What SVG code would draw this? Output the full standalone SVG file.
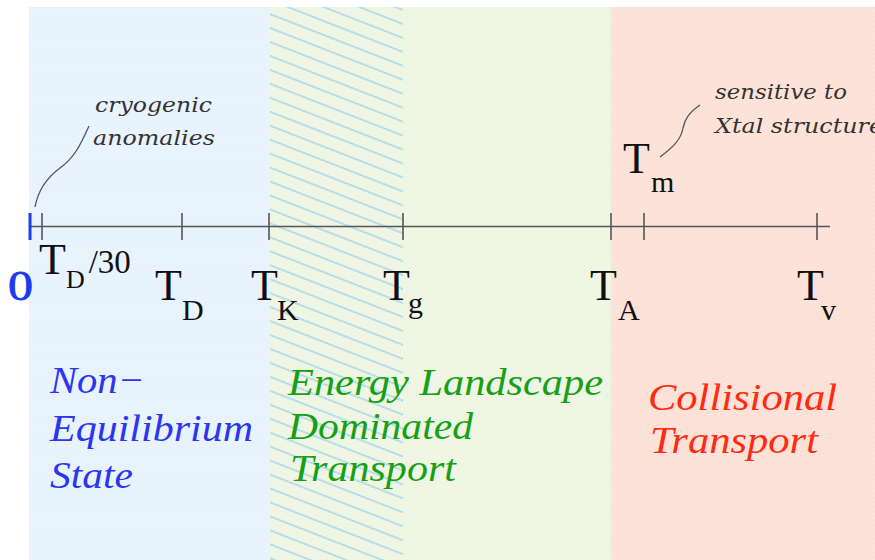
<svg xmlns="http://www.w3.org/2000/svg" width="875" height="560" viewBox="0 0 875 560">
<defs>
<pattern id="hatch" patternUnits="userSpaceOnUse" width="13" height="13" patternTransform="rotate(21.3)">
<line x1="0" y1="6" x2="13" y2="6" stroke="#9fd3ea" stroke-width="1.5"/>
</pattern>
<pattern id="tex" patternUnits="userSpaceOnUse" width="4" height="4" patternTransform="rotate(-30)">
<line x1="0" y1="2" x2="4" y2="2" stroke="#ffffff" stroke-width="0.8" stroke-opacity="0.35"/>
</pattern>
</defs>
<style>
text{font-family:'Liberation Serif','Times New Roman','DejaVu Serif',serif}
.big{font-size:44px;fill:#111}
.sub{font-size:30px;fill:#111}
.lab{font-style:italic;font-size:38px}
.note{font-family:'DejaVu Serif','Liberation Serif',serif;font-style:italic;font-size:21px;fill:#333}
.tick{stroke:#555;stroke-width:1.6}
.lead{fill:none;stroke:#555;stroke-width:1.3}
</style>
<rect width="875" height="560" fill="#ffffff"/>
<g id="regions">
<rect x="29" y="7" width="241" height="553" fill="#e6f2fd"/>
<rect x="270" y="7" width="341" height="553" fill="#eef5e1"/>
<rect x="270" y="7" width="133" height="553" fill="url(#hatch)"/>
<rect x="611" y="7" width="264" height="553" fill="#fde0d5"/>
<rect x="29" y="7" width="846" height="553" fill="url(#tex)"/>
</g>
<g id="axis">
<line class="tick" x1="30" y1="226.5" x2="830" y2="226.5"/>
<line x1="30" y1="213" x2="30" y2="240" stroke="#1a3cf0" stroke-width="3"/>
<line class="tick" x1="42" y1="213" x2="42" y2="240"/>
<line class="tick" x1="182" y1="213" x2="182" y2="240"/>
<line class="tick" x1="269" y1="213" x2="269" y2="240"/>
<line class="tick" x1="403" y1="213" x2="403" y2="240"/>
<line class="tick" x1="611" y1="213" x2="611" y2="240"/>
<line class="tick" x1="644" y1="213" x2="644" y2="240"/>
<line class="tick" x1="817" y1="213" x2="817" y2="240"/>
</g>
<g id="ticklabels">
<text x="8" y="300" font-size="42" fill="#1a3cf0" stroke="#1a3cf0" stroke-width="0.8" textLength="25" lengthAdjust="spacingAndGlyphs">0</text>
<text x="39" y="274" class="big" font-size="36">T<tspan font-size="26" dy="14">D</tspan><tspan font-size="33" dx="4" dy="-15">/30</tspan></text>
<text x="155" y="300" class="big">T</text><text x="182" y="320" class="sub">D</text>
<text x="251" y="300" class="big">T</text><text x="277" y="320" class="sub">K</text>
<text x="383" y="300" class="big">T</text><text x="408" y="313" class="sub">g</text>
<text x="590" y="300" class="big">T</text><text x="618" y="320" class="sub">A</text>
<text x="797" y="300" class="big">T</text><text x="821" y="320" class="sub">v</text>
<text x="623" y="173" class="big">T</text><text x="651" y="192" class="sub">m</text>
</g>
<g id="annotations">
<text x="95" y="112" class="note" textLength="117" lengthAdjust="spacingAndGlyphs">cryogenic</text>
<text x="93" y="145" class="note" textLength="122" lengthAdjust="spacingAndGlyphs">anomalies</text>
<path class="lead" d="M89,126 C80,146 74,158 60,168 C45,179 38,191 35,207"/>
<text x="715" y="99" class="note" textLength="132" lengthAdjust="spacingAndGlyphs">sensitive to</text>
<text x="715" y="133" class="note" textLength="168" lengthAdjust="spacingAndGlyphs">Xtal structure</text>
<path class="lead" d="M700,105 C690,112 685,118 683,128 C681,140 672,148 660,157"/>
</g>
<g id="regionlabels">
<text x="50" y="393" class="lab" fill="#2a36f0" textLength="95" lengthAdjust="spacingAndGlyphs">Non−</text>
<text x="50" y="441" class="lab" fill="#2a36f0" textLength="203" lengthAdjust="spacingAndGlyphs">Equilibrium</text>
<text x="50" y="488" class="lab" fill="#2a36f0" textLength="83" lengthAdjust="spacingAndGlyphs">State</text>
<text x="288" y="395" class="lab" fill="#16a016" textLength="315" lengthAdjust="spacingAndGlyphs">Energy Landscape</text>
<text x="288" y="439" class="lab" fill="#16a016" textLength="185" lengthAdjust="spacingAndGlyphs">Dominated</text>
<text x="290" y="481" class="lab" fill="#16a016" textLength="166" lengthAdjust="spacingAndGlyphs">Transport</text>
<text x="648" y="410" class="lab" fill="#ff2a10" textLength="189" lengthAdjust="spacingAndGlyphs">Collisional</text>
<text x="650" y="453" class="lab" fill="#ff2a10" textLength="168" lengthAdjust="spacingAndGlyphs">Transport</text>
</g>
</svg>
